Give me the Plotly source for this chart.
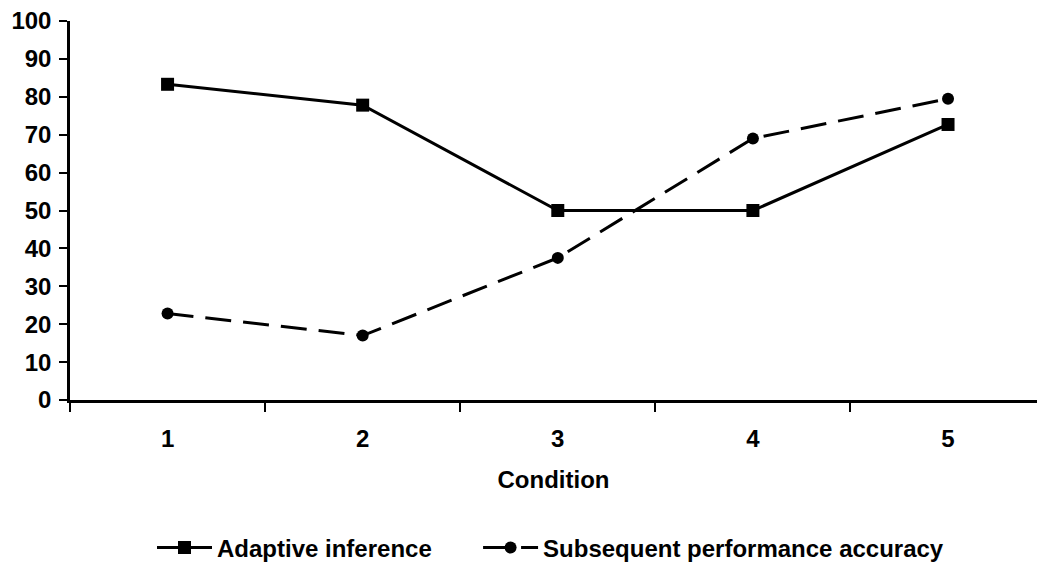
import plotly.graph_objects as go

conditions = ["1", "2", "3", "4", "5"]
adaptive_inference = [83.3, 77.8, 50.0, 50.0, 72.7]
subsequent_accuracy = [22.8, 17.0, 37.5, 69.0, 79.5]
y_ticks = [0, 10, 20, 30, 40, 50, 60, 70, 80, 90, 100]

FONT = "Liberation Sans, Arial, sans-serif"
FS = 24

def f():
    return dict(family=FONT, size=FS, color="black", weight="bold")

fig = go.Figure()
fig.add_trace(go.Scatter(
    x=conditions, y=adaptive_inference, name="Adaptive inference",
    mode="lines+markers", legend="legend",
    line=dict(color="black", width=3),
    marker=dict(symbol="square", size=13, color="black"),
))
fig.add_trace(go.Scatter(
    x=conditions, y=subsequent_accuracy, name="Subsequent performance accuracy",
    mode="lines+markers", legend="legend2",
    line=dict(color="black", width=3, dash="26px,12px"),
    marker=dict(symbol="circle", size=12, color="black"),
))

fig.update_layout(
    width=1037, height=562,
    margin=dict(l=70, r=0, t=21, b=162, autoexpand=False),
    paper_bgcolor="white", plot_bgcolor="white",
    font=f(),
    showlegend=True,
    legend=dict(orientation="h", x=0.0848, xanchor="left", y=-0.3905, yanchor="middle",
                font=f(), itemwidth=55, bgcolor="rgba(0,0,0,0)"),
    legend2=dict(orientation="h", x=0.422, xanchor="left", y=-0.3905, yanchor="middle",
                 font=f(), itemwidth=55, bgcolor="rgba(0,0,0,0)"),
)
fig.update_xaxes(
    type="category", range=[-0.5, 4.456],
    showline=True, linecolor="black", linewidth=2.5,
    ticks="outside", tickson="boundaries", ticklen=9, tickwidth=2, tickcolor="black",
    showgrid=False, zeroline=False, ticklabelstandoff=15,
    tickfont=f(),
    title=dict(text="Condition", standoff=21, font=f()),
)
fig.update_yaxes(
    range=[0, 100], tickvals=y_ticks,
    showline=True, linecolor="black", linewidth=2.5,
    ticks="outside", ticklen=8, tickwidth=2, tickcolor="black",
    showgrid=False, zeroline=False, ticklabelstandoff=3,
    tickfont=f(),
)

fig.write_html("out.html")
